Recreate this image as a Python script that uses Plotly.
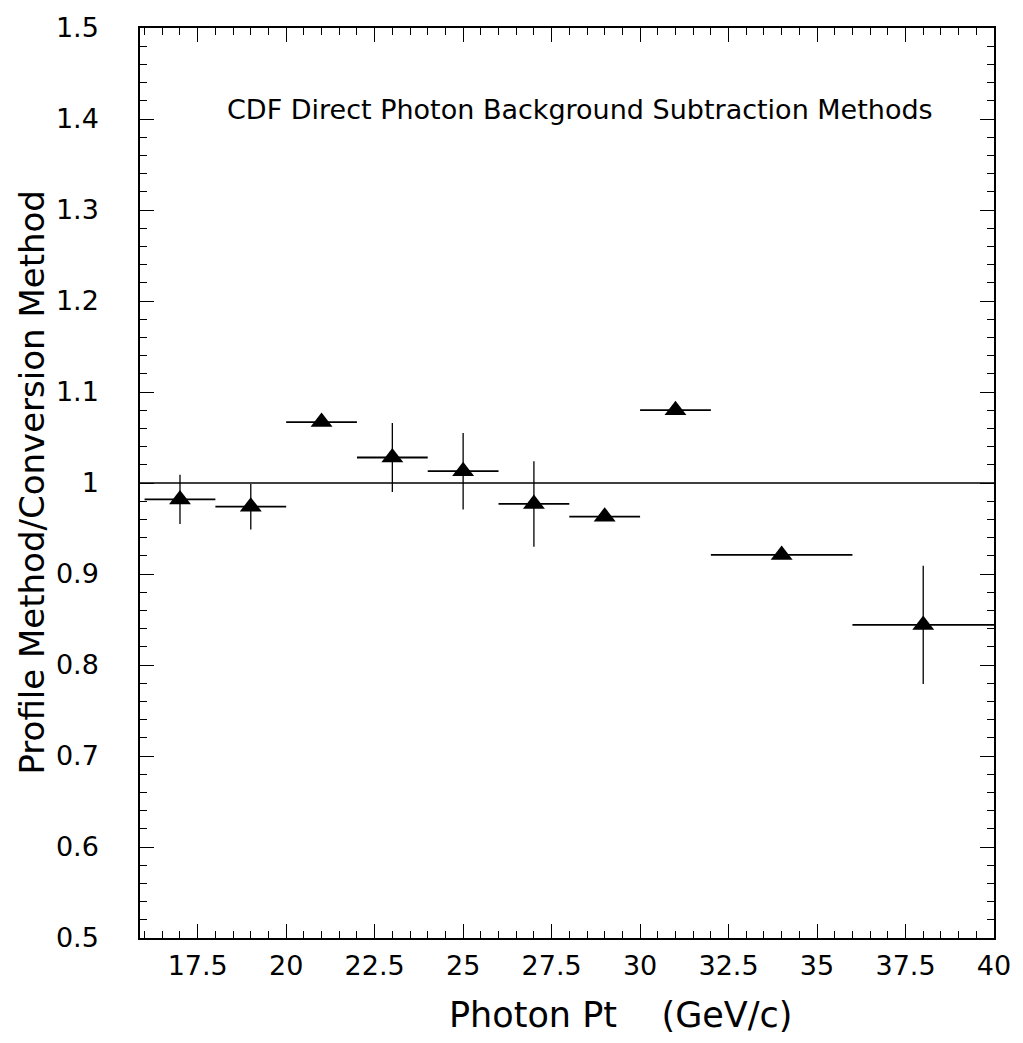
import plotly.graph_objects as go

# Data
pt = [17, 19, 21, 23, 25, 27, 29, 31, 34, 38]
pt_halfwidth = [1, 1, 1, 1, 1, 1, 1, 1, 2, 2]
ratio = [0.982, 0.974, 1.067, 1.028, 1.013, 0.977, 0.963, 1.080, 0.921, 0.844]
ratio_err = [0.027, 0.025, 0.004, 0.038, 0.042, 0.047, 0.004, 0.004, 0.004, 0.065]

title_text = "CDF Direct Photon Background Subtraction Methods"
x_title = "Photon Pt&nbsp;&nbsp;&nbsp;&nbsp;(GeV/c)"
y_title = "Profile Method/Conversion Method"

FONT = "DejaVu Sans, Verdana, sans-serif"

fig = go.Figure()
fig.add_hline(y=1.0, line=dict(color="black", width=1.5))
fig.add_trace(go.Scatter(
    x=pt, y=ratio, mode="markers",
    marker=dict(symbol="triangle-up", size=19, color="black"),
    error_x=dict(type="data", array=pt_halfwidth, width=0, thickness=1.8, color="black"),
    error_y=dict(type="data", array=ratio_err, width=0, thickness=1.3, color="black"),
    showlegend=False,
))

axis_common = dict(
    showline=True, linecolor="black", linewidth=1.5, mirror="allticks",
    ticks="inside", ticklen=14, tickwidth=1.2, tickcolor="black",
    showgrid=False, zeroline=False,
    tickfont=dict(family=FONT, size=27, color="black"),
)

fig.update_xaxes(
    range=[15.87, 40], dtick=2.5, tick0=0,
    minor=dict(dtick=0.5, ticks="inside", ticklen=7, tickcolor="black", tickwidth=1),
    ticklabelstandoff=3,
    **axis_common,
)
fig.update_yaxes(
    range=[0.5, 1.5], dtick=0.1, tick0=0,
    minor=dict(dtick=0.02, ticks="inside", ticklen=7, tickcolor="black", tickwidth=1),
    ticklabelstandoff=34,
    **axis_common,
)

fig.add_annotation(
    text=title_text, xref="paper", yref="paper", x=0.515, y=0.91,
    showarrow=False, font=dict(family=FONT, size=27, color="black"),
    xanchor="center", yanchor="middle",
)
fig.add_annotation(
    text=x_title, xref="paper", yref="paper", x=0.563, y=-0.085,
    showarrow=False, font=dict(family=FONT, size=35, color="black"),
    xanchor="center", yanchor="middle",
)
fig.add_annotation(
    text=y_title, xref="paper", yref="paper", x=-0.127, y=0.5,
    showarrow=False, font=dict(family=FONT, size=34, color="black"),
    textangle=-90, xanchor="center", yanchor="middle",
)

fig.update_layout(
    width=1023, height=1043,
    margin=dict(l=140, r=20, t=23, b=105),
    paper_bgcolor="white", plot_bgcolor="white",
)

fig.write_html("out.html")
